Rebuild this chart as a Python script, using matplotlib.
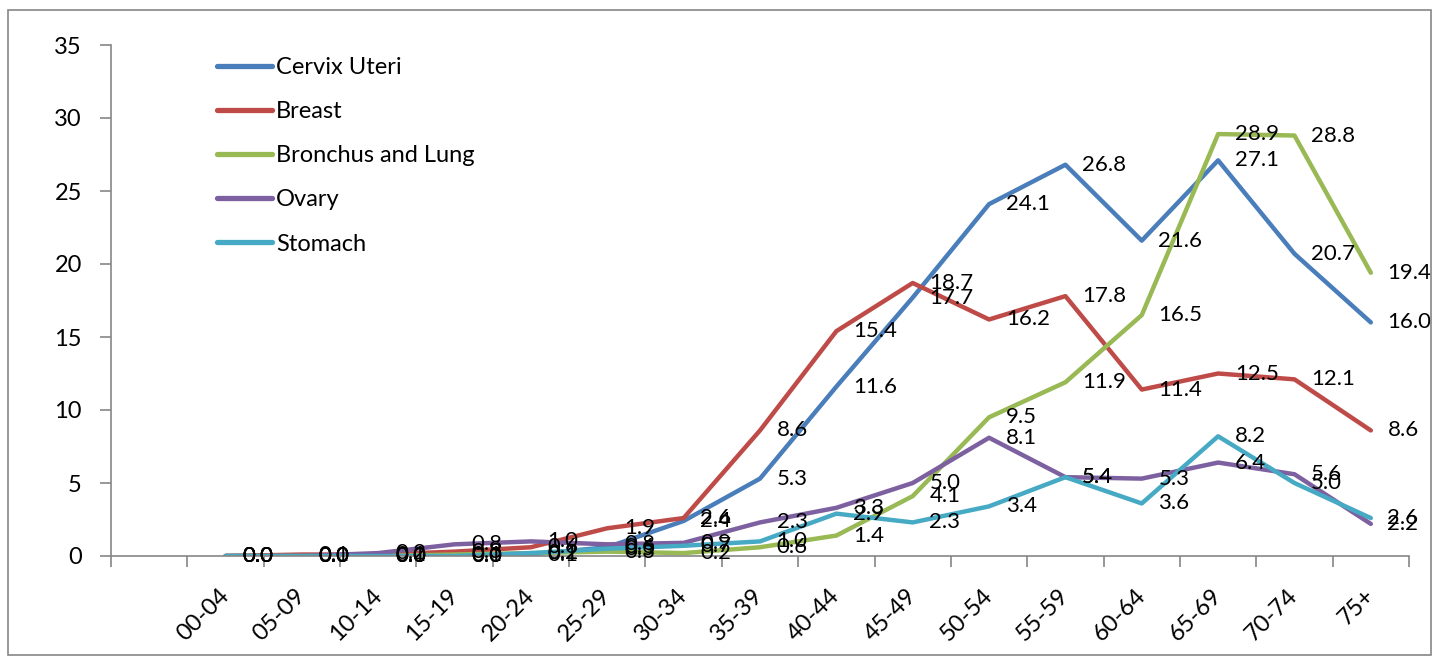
import matplotlib
matplotlib.use("Agg")
import matplotlib.pyplot as plt
import numpy as np
from matplotlib.patches import Rectangle
from matplotlib.transforms import ScaledTranslation

plt.rcParams['font.family'] = ['Lato', 'DejaVu Sans']

age_groups = ['00-04', '05-09', '10-14', '15-19', '20-24', '25-29', '30-34', '35-39',
              '40-44', '45-49', '50-54', '55-59', '60-64', '65-69', '70-74', '75+']

cervix  = [0.0, 0.0, 0.0, 0.0, 0.1, 0.6, 2.4, 5.3, 11.6, 17.7, 24.1, 26.8, 21.6, 27.1, 20.7, 16.0]
breast  = [0.0, 0.1, 0.1, 0.3, 0.6, 1.9, 2.6, 8.6, 15.4, 18.7, 16.2, 17.8, 11.4, 12.5, 12.1, 8.6]
lung    = [0.0, 0.0, 0.0, 0.1, 0.2, 0.3, 0.2, 0.6, 1.4, 4.1, 9.5, 11.9, 16.5, 28.9, 28.8, 19.4]
ovary   = [0.0, 0.0, 0.2, 0.8, 1.0, 0.8, 0.9, 2.3, 3.3, 5.0, 8.1, 5.4, 5.3, 6.4, 5.6, 2.2]
stomach = [0.0, 0.0, 0.0, 0.0, 0.2, 0.5, 0.7, 1.0, 2.9, 2.3, 3.4, 5.4, 3.6, 8.2, 5.0, 2.6]

series_names = ['Cervix Uteri', 'Breast', 'Bronchus and Lung', 'Ovary', 'Stomach']
series_values = [cervix, breast, lung, ovary, stomach]
colors = ['#4A7EBB', '#BE4B48', '#98B954', '#7D60A0', '#46AAC5']

FS = 17

fig = plt.figure(figsize=(14.35, 6.6), dpi=100)
ax = fig.add_axes([111/1435, 104/660, (1409-111)/1435, (556-45)/660])

x = np.arange(1, len(age_groups) + 1)
for name, vals, c in zip(series_names, series_values, colors):
    ax.plot(x, vals, color=c, lw=3.2, label=name, solid_capstyle='round', solid_joinstyle='round')
for vals in series_values:
    for xi, v in zip(x, vals):
        ax.annotate(f'{v:.1f}', (xi, v), xytext=(12, 0), textcoords='offset points',
                    ha='left', va='center', fontsize=16, color='black')

ax.set_xlim(-0.5, len(age_groups) + 0.5)
ax.set_ylim(0, 35)
ax.set_yticks(np.arange(0, 36, 5))
ax.set_xticks(x)
ax.set_xticklabels(age_groups, rotation=45, ha='right', va='center', rotation_mode='anchor')
shift = ScaledTranslation(-6/100, 0, fig.dpi_scale_trans)
for lab in ax.get_xticklabels():
    lab.set_transform(lab.get_transform() + shift)
ax.set_xticks(np.arange(-0.5, len(age_groups) + 1, 1), minor=True)
ax.tick_params(axis='x', which='major', length=0, pad=26, labelsize=FS)
ax.tick_params(axis='x', which='minor', length=8, width=1.2, color='#868686', direction='out')
ax.tick_params(axis='y', length=8, width=1.2, color='#868686', pad=13, labelsize=FS)
for s in ['top', 'right']:
    ax.spines[s].set_visible(False)
for s in ['left', 'bottom']:
    ax.spines[s].set_color('#868686')
    ax.spines[s].set_linewidth(1.2)

leg = ax.legend(loc='upper left', bbox_to_anchor=(0.0655, 1.018), frameon=False, fontsize=FS,
                handlelength=2.33, handletextpad=0.17, labelspacing=0.98)
for h in leg.get_lines():
    h.set_linewidth(3.8)

fig.patches.append(Rectangle((8/1435, 5/660), 1423/1435, 645/660, transform=fig.transFigure,
                             fill=False, edgecolor='#868686', lw=1.2))

fig.savefig('out.png', dpi=100)
